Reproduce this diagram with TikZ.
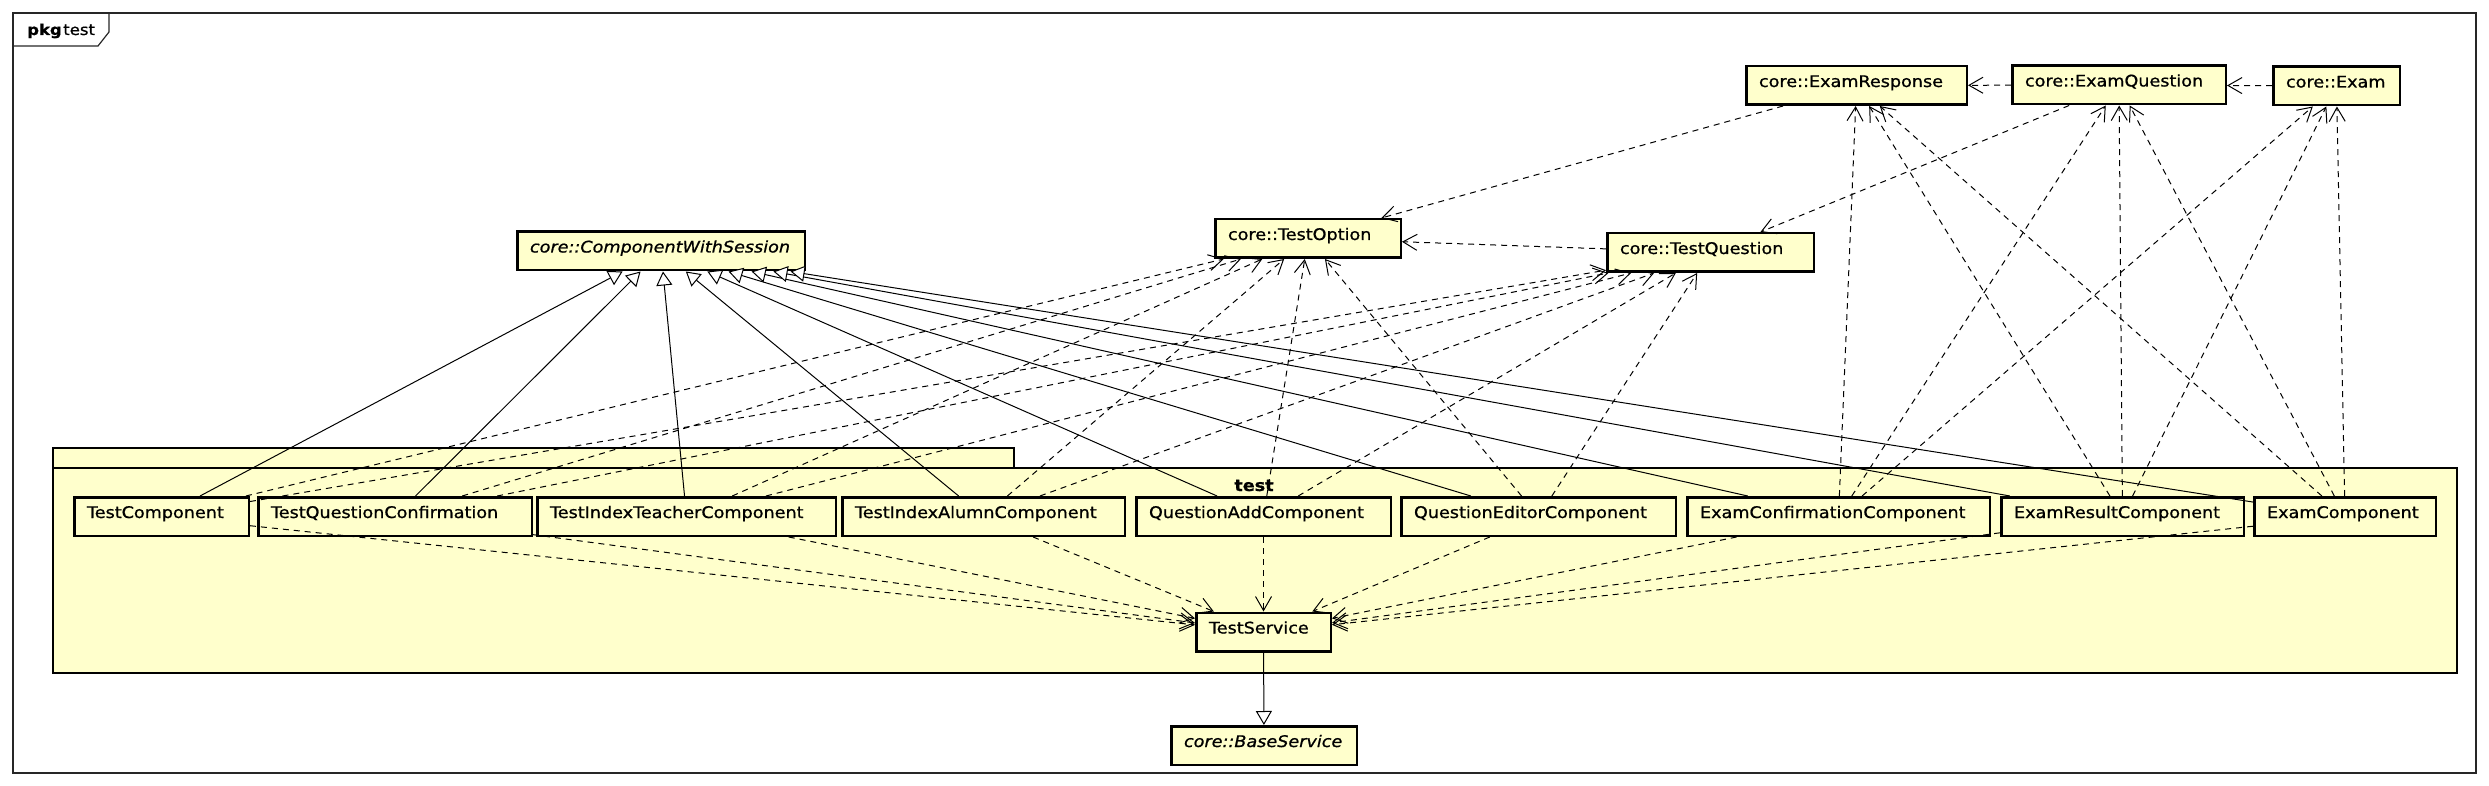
\documentclass[tikz,border=0pt]{standalone}
\usepackage{fontspec}
\setmainfont{DejaVu Sans}[FakeStretch=1.1, FakeBold=0.9]
\usepackage{tikz}
\usetikzlibrary{arrows.meta}
\definecolor{umlfill}{HTML}{FFFFCC}

\begin{document}
\begin{tikzpicture}[x = 1pt, y = -1pt,
    cls/.style = {draw, line width = 2.5pt, fill = umlfill, align = left, inner xsep = 12.75pt,
        minimum height = 38.5pt, text height = 12pt, text depth = 9pt,
        font = \fontsize{16pt}{19pt}\selectfont},
    abstr/.style = {cls, font = \fontsize{16pt}{19pt}\selectfont\itshape},
    dep/.style = {line width = 1pt, dash pattern = on 6pt off 5pt, -{Straight Barb[length = 14pt, width = 16pt]}},
    gen/.style = {line width = 1pt, -{Triangle[length = 14pt, width = 16pt, fill = white]}}]
\useasboundingbox (0,0) rectangle (2489,786);
% frame and package
\draw [line width = 1.2pt, black!85] (13,13) rectangle (2476,773);
\draw [line width = 1.2pt, black!85] (13,46) -- (98,46) -- (109,32) -- (109,13);
\node [anchor = base west, inner sep = 0, font = \fontsize{15pt}{18pt}\selectfont] (frm) at (27,35) {\textbf{pkg}\kern1.5pt test};
\draw [line width = 2.5pt, fill = umlfill] (53,448) rectangle (1014,468);
\draw [line width = 2.5pt, fill = umlfill] (53,468) rectangle (2457,673);
\node [anchor = base, font = \fontsize{16pt}{19pt}\selectfont\bfseries] (pk) at (1254,491) {test};
% classes
\draw (661,251) node[abstr, text width = 262pt](cws){core::ComponentWithSession}
    (1308,238.5) node[cls, text width = 160pt](topt){core::TestOption}
    (1710.5,252.5) node[cls, text width = 181pt](tq){core::TestQuestion}
    (1856.5,85.5) node[cls, text width = 195pt](eresp){core::ExamResponse}
    (2119,85) node[cls, text width = 188pt](eq){core::ExamQuestion}
    (2336.5,86) node[cls, text width = 101pt](exam){core::Exam}
    (161.5,516.5) node[cls, text width = 149pt](tc){TestComponent}
    (395,516.5) node[cls, text width = 248pt](tqc){TestQuestionConfirmation}
    (686.5,516.5) node[cls, text width = 273pt](titc){TestIndexTeacherComponent}
    (983.5,516.5) node[cls, text width = 257pt](tiac){TestIndexAlumnComponent}
    (1263.5,516.5) node[cls, text width = 229pt](qac){QuestionAddComponent}
    (1538.5,516.5) node[cls, text width = 249pt](qec){QuestionEditorComponent}
    (1838.5,516.5) node[cls, text width = 277pt](ecc){ExamConfirmationComponent}
    (2122.5,516.5) node[cls, text width = 217pt](erc){ExamResultComponent}
    (2345,516.5) node[cls, text width = 156pt](ec){ExamComponent}
    (1263.5,632) node[cls, text width = 109pt](ts){TestService}
    (1264,745.5) node[abstr, text width = 160pt](bs){core::BaseService};
% generalizations
    \draw [gen] (tc) -- (cws);
    \draw [gen] (tqc) -- (cws);
    \draw [gen] (titc) -- (cws);
    \draw [gen] (tiac) -- (cws);
    \draw [gen] (qac) -- (cws);
    \draw [gen] (qec) -- (cws);
    \draw [gen] (ecc) -- (cws);
    \draw [gen] (erc) -- (cws);
    \draw [gen] (ec) -- (cws);
    \draw [gen] (ts) -- (bs);
% dependencies
    \draw [dep] (eq) -- (eresp);
    \draw [dep] (exam) -- (eq);
    \draw [dep] (eresp) -- (topt);
    \draw [dep] (eq) -- (tq);
    \draw [dep] (tq) -- (topt);
    \draw [dep] (tc) -- (topt);
    \draw [dep] (tc) -- (tq);
    \draw [dep] (tqc) -- (topt);
    \draw [dep] (tqc) -- (tq);
    \draw [dep] (titc) -- (topt);
    \draw [dep] (titc) -- (tq);
    \draw [dep] (tiac) -- (topt);
    \draw [dep] (tiac) -- (tq);
    \draw [dep] (qac) -- (topt);
    \draw [dep] (qac) -- (tq);
    \draw [dep] (qec) -- (topt);
    \draw [dep] (qec) -- (tq);
    \draw [dep] (ecc) -- (eresp);
    \draw [dep] (ecc) -- (eq);
    \draw [dep] (ecc) -- (exam);
    \draw [dep] (erc) -- (eresp);
    \draw [dep] (erc) -- (eq);
    \draw [dep] (erc) -- (exam);
    \draw [dep] (ec) -- (eresp);
    \draw [dep] (ec) -- (eq);
    \draw [dep] (ec) -- (exam);
    \draw [dep] (tc) -- (ts);
    \draw [dep] (tqc) -- (ts);
    \draw [dep] (titc) -- (ts);
    \draw [dep] (tiac) -- (ts);
    \draw [dep] (qac) -- (ts);
    \draw [dep] (qec) -- (ts);
    \draw [dep] (ecc) -- (ts);
    \draw [dep] (erc) -- (ts);
    \draw [dep] (ec) -- (ts);
\end{tikzpicture}
\end{document}
